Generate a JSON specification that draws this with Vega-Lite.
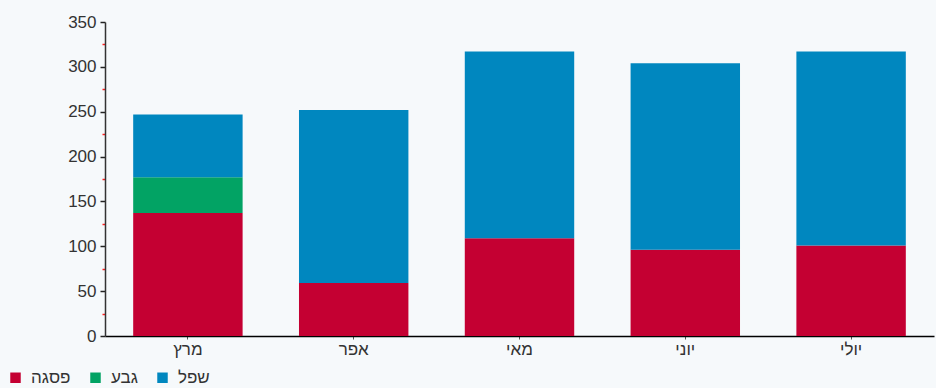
{
  "$schema": "https://vega.github.io/schema/vega-lite/v6.json",
  "width": 829,
  "height": 314,
  "autosize": {"type": "none"},
  "padding": {"left": 105, "top": 22, "right": 2, "bottom": 52},
  "background": "#f6f9fb",
  "config": {
    "view": {"stroke": null},
    "font": "Liberation Sans"
  },
  "data": {
    "values": [
      {"month": "מרץ", "series": "פסגה", "rank": 1, "value": 137},
      {"month": "מרץ", "series": "גבע", "rank": 2, "value": 40},
      {"month": "מרץ", "series": "שפל", "rank": 3, "value": 70},
      {"month": "אפר", "series": "פסגה", "rank": 1, "value": 59},
      {"month": "אפר", "series": "גבע", "rank": 2, "value": 0},
      {"month": "אפר", "series": "שפל", "rank": 3, "value": 193},
      {"month": "מאי", "series": "פסגה", "rank": 1, "value": 109},
      {"month": "מאי", "series": "גבע", "rank": 2, "value": 0},
      {"month": "מאי", "series": "שפל", "rank": 3, "value": 208},
      {"month": "יוני", "series": "פסגה", "rank": 1, "value": 96},
      {"month": "יוני", "series": "גבע", "rank": 2, "value": 0},
      {"month": "יוני", "series": "שפל", "rank": 3, "value": 208},
      {"month": "יולי", "series": "פסגה", "rank": 1, "value": 101},
      {"month": "יולי", "series": "גבע", "rank": 2, "value": 0},
      {"month": "יולי", "series": "שפל", "rank": 3, "value": 216}
    ]
  },
  "mark": {"type": "bar"},
  "encoding": {
    "x": {
      "field": "month",
      "type": "nominal",
      "sort": ["מרץ", "אפר", "מאי", "יוני", "יולי"],
      "scale": {"paddingInner": 0.34, "paddingOuter": 0.17},
      "axis": {
        "title": null,
        "labelAngle": 0,
        "labelFontSize": 17,
        "labelColor": "#333333",
        "labelPadding": 2,
        "domainColor": "#000000",
        "domainWidth": 1.5,
        "tickColor": "#555555",
        "tickSize": 3,
        "grid": false
      }
    },
    "y": {
      "field": "value",
      "type": "quantitative",
      "stack": "zero",
      "scale": {"domain": [0, 350], "nice": false},
      "axis": {
        "title": null,
        "values": [0, 25, 50, 75, 100, 125, 150, 175, 200, 225, 250, 275, 300, 325, 350],
        "labelExpr": "datum.value % 50 === 0 ? datum.label : ''",
        "labelFontSize": 17,
        "labelColor": "#333333",
        "labelPadding": 4,
        "domainColor": "#333333",
        "domainWidth": 1.5,
        "tickColor": {"condition": {"test": "datum.value % 50 !== 0", "value": "#ff2020"}, "value": "#222222"},
        "tickSize": {"condition": {"test": "datum.value % 50 !== 0", "value": 3}, "value": 5},
        "tickWidth": 1.5,
        "grid": false
      }
    },
    "color": {
      "field": "series",
      "type": "nominal",
      "scale": {
        "domain": ["פסגה", "גבע", "שפל"],
        "range": ["#c40032", "#02a364", "#0087bf"]
      },
      "legend": {
        "title": null,
        "orient": "none",
        "direction": "horizontal",
        "legendX": -98,
        "legendY": 347,
        "symbolType": "square",
        "symbolSize": 110,
        "symbolStrokeWidth": 0,
        "labelFontSize": 17,
        "labelColor": "#333333",
        "columnPadding": 16,
        "labelOffset": 7
      }
    },
    "order": {"field": "rank", "type": "quantitative"}
  }
}
